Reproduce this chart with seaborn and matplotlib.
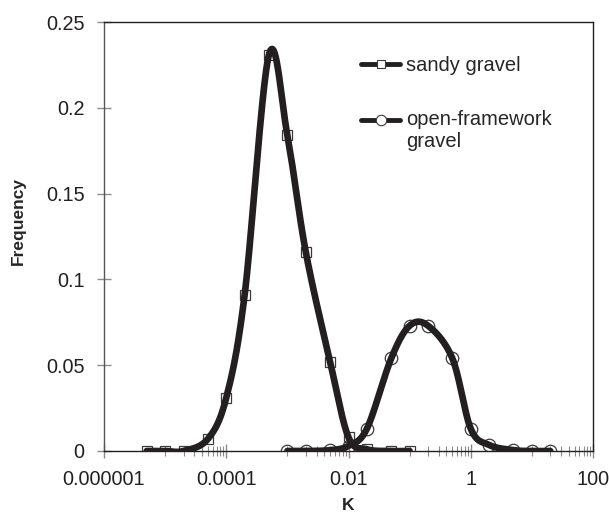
import numpy as np
import pandas as pd
import matplotlib
matplotlib.use("Agg")
import matplotlib.pyplot as plt
from matplotlib.lines import Line2D
from matplotlib.ticker import FixedLocator, FixedFormatter, NullFormatter
import seaborn as sns

# data
k_sandy = [5e-6, 1e-5, 2e-5, 5e-5, 1e-4, 2e-4, 5e-4, 1e-3, 2e-3, 5e-3, 1e-2, 2e-2, 5e-2, 0.1]
freq_sandy = [0, 0, 0, 0.007, 0.031, 0.091, 0.231, 0.184, 0.116, 0.052, 0.008, 0.001, 0, 0]
k_open = [1e-3, 2e-3, 5e-3, 1e-2, 2e-2, 5e-2, 0.1, 0.2, 0.5, 1, 2, 5, 10, 20]
freq_open = [0, 0, 0.0005, 0.003, 0.013, 0.054, 0.073, 0.073, 0.054, 0.013, 0.0035, 0.0005, 0, 0]

series_names = ["sandy gravel", "open-framework\ngravel"]
x_ticks = [1e-6, 1e-4, 1e-2, 1, 100]
x_tick_labels = ["0.000001", "0.0001", "0.01", "1", "100"]
y_ticks = [0, 0.05, 0.1, 0.15, 0.2, 0.25]
y_tick_labels = ["0", "0.05", "0.1", "0.15", "0.2", "0.25"]

INK = "#231f20"


def smooth(xs, ys, n=40):
    # spreadsheet-style smoothed line: cubic Bezier through the points (log x space)
    p = np.column_stack([np.log10(xs), np.asarray(ys, float)])
    pad = np.vstack([p[0], p, p[-1]])
    t = np.linspace(0, 1, n)[:, None]
    out = []
    for i in range(len(p) - 1):
        p0, p1, p2, p3 = pad[i], pad[i + 1], pad[i + 2], pad[i + 3]
        c1 = p1 + (p2 - p0) / 6
        c2 = p2 - (p3 - p1) / 6
        seg = (1 - t) ** 3 * p1 + 3 * (1 - t) ** 2 * t * c1 + 3 * (1 - t) * t ** 2 * c2 + t ** 3 * p2
        out.append(seg if i == 0 else seg[1:])
    out = np.vstack(out)
    return pd.DataFrame({"K": 10 ** out[:, 0], "Frequency": out[:, 1]})


sns.set_theme(style="white")
plt.rcParams["font.family"] = ["Liberation Sans", "DejaVu Sans"]

fig = plt.figure(figsize=(6.09, 5.14), dpi=100)
ax = fig.add_axes([104 / 609, 1 - 451 / 514, 489 / 609, 429 / 514])
ax.set_xscale("log")

markers = ["s", "o"]
msizes = [7, 9]
for name, xs, ys, m, ms in zip(series_names, [k_sandy, k_open], [freq_sandy, freq_open], markers, msizes):
    ax.plot(xs, ys, ls="none", marker=m, ms=ms, mfc="none", mec="#3a3a3a", mew=0.9, zorder=2)
    sns.lineplot(data=smooth(xs, ys), x="K", y="Frequency", ax=ax, color=INK, lw=4.8,
                 sort=False, estimator=None, zorder=3)

ax.set_xlim(1e-6, 100)
ax.set_ylim(0, 0.25)

ax.xaxis.set_major_locator(FixedLocator(x_ticks))
ax.xaxis.set_major_formatter(FixedFormatter(x_tick_labels))
minor = [m * b for b in [1e-5, 1e-3, 1e-1, 10] for m in range(1, 10)]
ax.xaxis.set_minor_locator(FixedLocator(minor))
ax.xaxis.set_minor_formatter(NullFormatter())
ax.yaxis.set_major_locator(FixedLocator(y_ticks))
ax.yaxis.set_major_formatter(FixedFormatter(y_tick_labels))

ax.tick_params(axis="both", which="major", direction="inout", length=10, width=1,
               color="#8a8a8a", labelsize=14.3, labelcolor="#231f20", pad=9)
ax.tick_params(axis="x", which="minor", direction="inout", length=7, width=0.8,
               color="#8a8a8a", bottom=True)
ax.tick_params(axis="x", which="major", bottom=True)
ax.tick_params(axis="y", which="major", left=True)

for side, sp in ax.spines.items():
    sp.set_visible(True)
    sp.set_color(INK)
    sp.set_linewidth(1.0)
ax.spines["left"].set_color("#555555")

ax.set_xlabel("K", fontsize=12.5, fontweight="bold", labelpad=6)
ax.set_ylabel("Frequency", fontsize=12.5, fontweight="bold")
ax.yaxis.set_label_coords(-0.16, 0.535)

handles = [Line2D([], [], color=INK, lw=3.5, marker=m, ms=ms - 1.5, mfc="white",
                  mec="#3a3a3a", mew=0.8) for m, ms in zip(markers, msizes)]
leg = ax.legend(handles, series_names, loc="upper left", bbox_to_anchor=(0.51, 0.94),
                frameon=False, fontsize=14.5, handlelength=1.9, handletextpad=0.3,
                labelspacing=1.75, borderaxespad=0)
for t in leg.get_texts():
    t.set_linespacing(1.2)
# keep the second handle level with the first line of its label
h2 = leg.legend_handles[1]
h2.set_ydata(np.asarray(h2.get_ydata(), float) + 8)

fig.savefig("out.png", dpi=100)
